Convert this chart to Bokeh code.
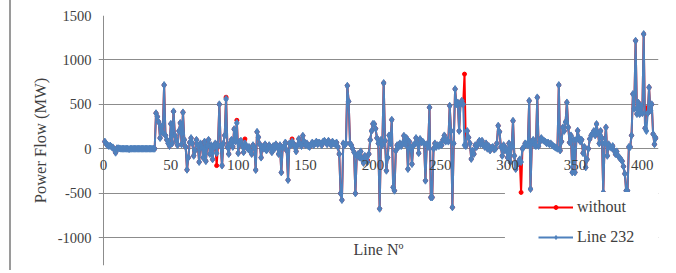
from bokeh.plotting import figure
from bokeh.models import (Range1d, FixedTicker, Legend, LegendItem, LinearAxis,
                          BoxAnnotation, ColumnDataSource)
from bokeh.embed import file_html
from bokeh.resources import INLINE

# ---- data -------------------------------------------------------------
line232 = [
    80, 55, 40, 30, 35, 20, 15, -10, -45, 5,
    5, 3, 0, 0, 0, 0, 0, 0, -5, 0,
    0, 0, 0, 0, 0, 0, 0, 0, 0, 0,
    0, 0, 0, 0, 0, 0, 0, 0, 400, 360,
    300, 120, 250, 180, 717, 150, 100, 60, 30, 280,
    60, 420, 150, 90, 40, 200, 290, 50, 409, 100,
    20, -237, -100, 70, 120, 60, -80, -20, 100, 40,
    -150, 60, 20, -100, 80, -140, 30, 100, -60, 40,
    -120, 20, 60, -50, 40, 500, 30, -190, 60, 150,
    560, 20, -60, 60, 100, 20, 220, 80, 290, -50,
    80, 90, 30, -40, 60, 30, 0, 20, -30, -60,
    40, 10, -240, 190, 130, 50, -100, 20, 0, 50,
    -20, 0, 40, 10, -40, 30, 0, 50, 20, -60,
    40, -267, 10, 30, 70, -20, -353, 60, 40, 80,
    60, 20, -30, 40, 110, 50, 30, 146, 80, 40,
    60, 30, 20, 50, 70, 40, 60, 80, 50, 70,
    60, 40, 80, 90, 70, 50, 90, 60, 40, 80,
    60, 50, 70, 20, -60, -503, -578, 60, 40, 60,
    709, 533, 60, 40, 0, -40, -503, -80, -60, -100,
    -30, -120, -160, -80, -116, -150, -60, 100, 200, 280,
    278, 225, 120, 60, -676, 100, 40, 740, 90, -248,
    -100, 150, 60, 326, -435, -473, -22, 40, 20, 60,
    30, 60, 146, 50, 120, -229, 80, 20, -173, 40,
    50, 120, 60, -50, 110, 70, 80, 60, -360, 50,
    20, 465, -548, -548, 0, 60, 20, 40, 30, 50,
    40, 100, 150, 80, 100, 80, 484, 200, -660, 60,
    672, 500, 521, 200, 500, 540, 500, 40, 30, 200,
    127, 60, -116, -20, -60, 40, 20, 60, 90, 50,
    90, 40, 20, 60, 0, 30, -20, 10, 20, -10,
    0, 60, 259, 190, 20, -80, 40, -20, 0, -100,
    60, -150, 20, 315, -80, -229, -180, -150, -120, -150,
    0, 20, 60, 50, 40, 540, -454, 80, 100, 40,
    30, 578, 30, 80, 120, 100, 90, 80, 60, 70,
    50, 60, 40, 30, 20, 10, 0, 717, -20, 80,
    240, 200, 300, 521, 240, 70, 150, -267, 100, -267,
    100, 203, 120, 80, 100, -50, 20, -210, -120, 0,
    110, 150, 170, 200, 150, 278, 180, 60, 200, 120,
    -492, 60, 240, -80, 50, 20, 10, 30, -20, -60,
    -30, -80, -100, -120, -140, -200, -282, -473, -473, 20,
    20, 150, 616, 450, 1216, 390, 520, 390, 480, 400,
    1291, 230, 200, 400, 690, 430, 500, 165, 50, 120,
]
# lines where the "without" case differs from the "Line 232" case
without_changed_lines = [84, 91, 99, 105, 140, 196, 268, 310, 403]
without_changed_values = [-190, 580, 320, 110, 110, -130, 840, -492, 460]

line_numbers = list(range(1, len(line232) + 1))
without = list(line232)
for ln, v in zip(without_changed_lines, without_changed_values):
    without[ln - 1] = v

x_ticks = [0, 50, 100, 150, 200, 250, 300, 350, 400]
y_ticks = [-1000, -500, 0, 500, 1000, 1500]
y_tick_labels = {-1000: "-1000", -500: "-500"}
series_names = ["without", "Line 232"]

# ---- figure -----------------------------------------------------------
FONT = "Liberation Serif"
TXT = "#404040"
GRID = "#8c8c8c"
RED = "#ff0000"
BLUE = "#4f81bd"

p = figure(width=657, height=270, output_backend="svg", toolbar_location=None,
           x_range=Range1d(-3.7, 412), y_range=Range1d(-1315, 1500),
           min_border_left=87, min_border_top=15, min_border_right=10,
           min_border_bottom=5)
p.styles = {"border-left": "2px solid #9a9a9a", "margin-left": "9px"}
p.outline_line_color = None
p.background_fill_color = "white"
p.border_fill_color = "white"

# vertical axis line at x = 0 (as a grid line limited to the value range)
p.xgrid.ticker = FixedTicker(ticks=[0])
p.xgrid.bounds = (min(y_ticks), max(y_ticks))
p.xgrid.grid_line_color = GRID
p.xgrid.grid_line_width = 1

p.ygrid.grid_line_color = GRID
p.ygrid.grid_line_width = 1
p.ygrid.ticker = FixedTicker(ticks=y_ticks)
p.ygrid.bounds = (0, 412)

p.yaxis.ticker = FixedTicker(ticks=y_ticks)
p.yaxis.major_label_overrides = y_tick_labels
p.yaxis.axis_label = "Power Flow (MW)"
p.yaxis.axis_label_text_font = FONT
p.yaxis.axis_label_text_font_style = "normal"
p.yaxis.axis_label_text_font_size = "16.5px"
p.yaxis.axis_label_text_color = TXT
p.yaxis.axis_label_standoff = 5
p.yaxis.major_label_text_font = FONT
p.yaxis.major_label_text_font_size = "14.5px"
p.yaxis.major_label_text_color = TXT
p.yaxis.major_label_standoff = 7
p.yaxis.major_tick_out = 0
p.yaxis.major_tick_in = 0
p.yaxis.minor_tick_out = 0
p.yaxis.minor_tick_in = 0
p.yaxis.axis_line_color = None

p.xaxis.fixed_location = 0
p.xaxis.ticker = FixedTicker(ticks=x_ticks)
p.xaxis.major_label_text_font = FONT
p.xaxis.major_label_text_font_size = "15px"
p.xaxis.major_label_text_color = TXT
p.xaxis.major_label_standoff = 11
p.xaxis.major_tick_out = 0
p.xaxis.major_tick_in = 0
p.xaxis.minor_tick_out = 0
p.xaxis.minor_tick_in = 0
p.xaxis.axis_line_color = None

# axis carrying only the "Line Nº" title, drawn at the bottom of the plot area
title_axis = LinearAxis(fixed_location=min(y_ticks), ticker=FixedTicker(ticks=[]),
                        axis_line_color=None, major_tick_out=0, minor_tick_out=0,
                        axis_label="Line Nº", axis_label_standoff=3,
                        axis_label_text_font=FONT, axis_label_text_font_size="16px",
                        axis_label_text_font_style="normal",
                        axis_label_text_color=TXT)
p.add_layout(title_axis, "below")

# white legend area hiding the lower grid lines
p.add_layout(BoxAnnotation(left=298, top=-497, fill_color="white", fill_alpha=1,
                           line_alpha=0, level="underlay"))

src = ColumnDataSource(dict(x=line_numbers, wo=without, l232=line232))
r1 = p.line("x", "wo", source=src, line_color=RED, line_width=2)
m1 = p.scatter("x", "wo", source=src, marker="circle", size=4,
               fill_color=RED, line_color=RED)
r2 = p.line("x", "l232", source=src, line_color=BLUE, line_width=2)
m2 = p.scatter("x", "l232", source=src, marker="diamond", size=7,
               fill_color=BLUE, line_color=BLUE)

legend = Legend(items=[LegendItem(label=series_names[0], renderers=[r1, m1]),
                       LegendItem(label=series_names[1], renderers=[r2, m2])],
                location=(435, 13), padding=5, margin=0, spacing=10,
                glyph_width=35, glyph_height=10, label_height=20,
                label_standoff=4, label_text_font=FONT,
                label_text_font_size="16px", label_text_color=TXT,
                background_fill_color="white", background_fill_alpha=1,
                border_line_alpha=0)
p.add_layout(legend, "center")

open("out.html", "w").write(file_html(p, INLINE))
